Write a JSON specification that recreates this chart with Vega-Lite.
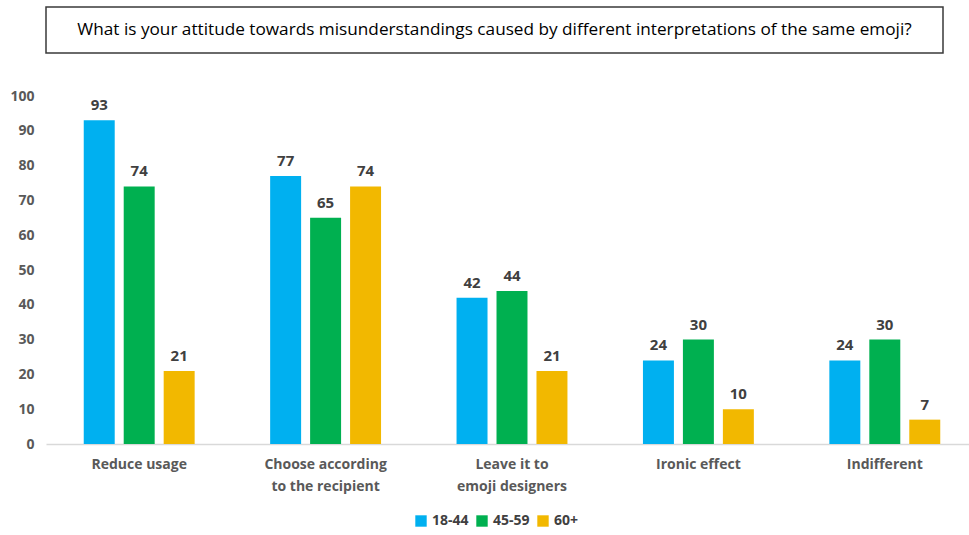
{
  "$schema": "https://vega.github.io/schema/vega-lite/v6.json",
  "background": "white",
  "padding": {"left": 9, "top": 6, "right": 0, "bottom": 5},
  "bounds": "flush",
  "spacing": 43,
  "config": {
    "font": "Open Sans",
    "axis": {"labelFont": "Open Sans", "labelFontWeight": "bold", "labelFontSize": 14, "labelColor": "#595959", "title": null, "grid": false, "ticks": false},
    "legend": {"labelFont": "Open Sans"}
  },
  "vconcat": [
    {
      "width": 897,
      "height": 46,
      "view": {"stroke": "#3a3a3a", "strokeWidth": 1.5, "fill": "white"},
      "data": {"values": [{"question": "What is your attitude towards misunderstandings caused by different interpretations of the same emoji?"}]},
      "mark": {"type": "text", "fontSize": 17.2, "color": "#000000", "font": "Open Sans"},
      "encoding": {"text": {"field": "question", "type": "nominal"}}
    },
    {
      "width": 932,
      "height": 348,
      "view": {"stroke": null},
      "data": {
        "values": [
          {"attitude": "Reduce usage", "age": "18-44", "share": 93},
          {"attitude": "Reduce usage", "age": "45-59", "share": 74},
          {"attitude": "Reduce usage", "age": "60+", "share": 21},
          {"attitude": "Choose according to the recipient", "age": "18-44", "share": 77},
          {"attitude": "Choose according to the recipient", "age": "45-59", "share": 65},
          {"attitude": "Choose according to the recipient", "age": "60+", "share": 74},
          {"attitude": "Leave it to emoji designers", "age": "18-44", "share": 42},
          {"attitude": "Leave it to emoji designers", "age": "45-59", "share": 44},
          {"attitude": "Leave it to emoji designers", "age": "60+", "share": 21},
          {"attitude": "Ironic effect", "age": "18-44", "share": 24},
          {"attitude": "Ironic effect", "age": "45-59", "share": 30},
          {"attitude": "Ironic effect", "age": "60+", "share": 10},
          {"attitude": "Indifferent", "age": "18-44", "share": 24},
          {"attitude": "Indifferent", "age": "45-59", "share": 30},
          {"attitude": "Indifferent", "age": "60+", "share": 7}
        ]
      },
      "encoding": {
        "x": {
          "field": "attitude",
          "type": "nominal",
          "sort": ["Reduce usage", "Choose according to the recipient", "Leave it to emoji designers", "Ironic effect", "Indifferent"],
          "scale": {"paddingInner": 0.405, "paddingOuter": 0.2025},
          "axis": {
            "labelAngle": 0,
            "labelPadding": 13,
            "labelLineHeight": 22,
            "domainColor": "#D9D9D9",
            "domainWidth": 1.5,
            "labelExpr": "datum.value == 'Choose according to the recipient' ? ['Choose according', 'to the recipient'] : datum.value == 'Leave it to emoji designers' ? ['Leave it to', 'emoji designers'] : datum.value"
          }
        },
        "xOffset": {
          "field": "age",
          "type": "nominal",
          "sort": ["18-44", "45-59", "60+"],
          "scale": {"paddingInner": 0.225, "paddingOuter": 0}
        },
        "y": {
          "field": "share",
          "type": "quantitative",
          "scale": {"domain": [0, 100]},
          "axis": {"domain": false, "values": [0, 10, 20, 30, 40, 50, 60, 70, 80, 90, 100], "labelPadding": 12}
        }
      },
      "layer": [
        {
          "mark": {"type": "bar"},
          "encoding": {
            "color": {
              "field": "age",
              "type": "nominal",
              "sort": ["18-44", "45-59", "60+"],
              "scale": {"domain": ["18-44", "45-59", "60+"], "range": ["#00B0F0", "#00B050", "#F2B800"]},
              "legend": {
                "title": null,
                "orient": "none",
                "direction": "horizontal",
                "legendX": 368,
                "legendY": 507,
                "symbolType": "square",
                "symbolSize": 130,
                "symbolStrokeWidth": 0,
                "labelFontSize": 14,
                "labelFontWeight": "bold",
                "labelColor": "#404040",
                "labelOffset": 4,
                "columnPadding": 6
              }
            }
          }
        },
        {
          "mark": {"type": "text", "dy": -10, "baseline": "alphabetic", "fontSize": 15, "fontWeight": "bold", "color": "#404040"},
          "encoding": {"text": {"field": "share", "type": "quantitative"}}
        }
      ]
    }
  ]
}
